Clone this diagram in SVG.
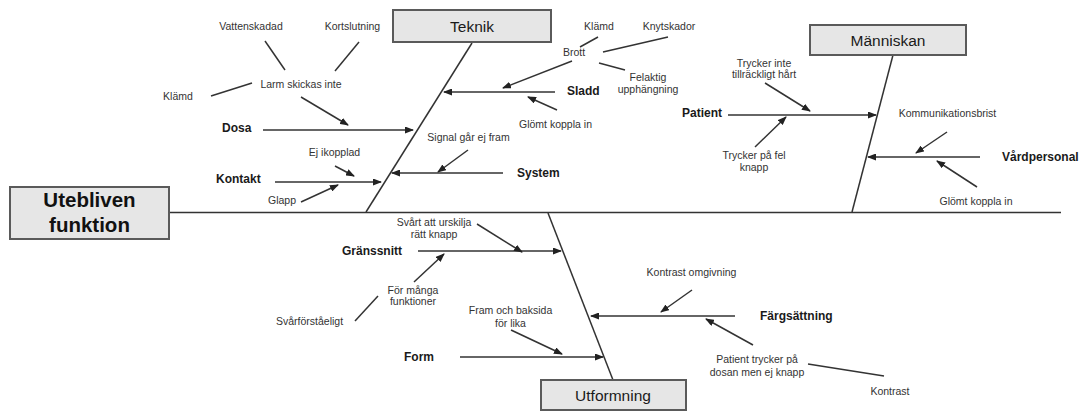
<svg xmlns="http://www.w3.org/2000/svg" width="1081" height="412" viewBox="0 0 1081 412">
<style>
.box{fill:#e6e6e6;stroke:#5a5a5a;stroke-width:2}
.ln{stroke:#333;stroke-width:1.5;fill:none}
.ar{stroke:#333;stroke-width:1.5;fill:none;marker-end:url(#ah)}
.s{font-family:"Liberation Sans",Arial,sans-serif;font-size:10.5px;fill:#333}
.m{text-anchor:middle}
.b{font-family:"Liberation Sans",Arial,sans-serif;font-size:12px;font-weight:bold;fill:#1a1a1a}
.t{font-family:"Liberation Sans",Arial,sans-serif;font-size:15.5px;fill:#1a1a1a;text-anchor:middle}
.h{font-family:"Liberation Sans",Arial,sans-serif;font-size:20.5px;font-weight:bold;fill:#111;text-anchor:middle}
</style>
<defs>
<marker id="ah" markerWidth="9" markerHeight="7" refX="8" refY="3.5" orient="auto" markerUnits="userSpaceOnUse">
<path d="M0,0 L9,3.5 L0,7 Z" fill="#222"/>
</marker>
</defs>
<rect width="1081" height="412" fill="#fff"/>
<g id="connectors">
<line class="ln" x1="169" y1="212.5" x2="1061" y2="212.5"/>
<line class="ln" x1="472" y1="43" x2="366" y2="212"/>
<line class="ln" x1="893" y1="55" x2="852" y2="212"/>
<line class="ln" x1="548" y1="213" x2="613" y2="380"/>
<line class="ar" x1="555" y1="92" x2="444" y2="92"/>
<line class="ar" x1="572" y1="61" x2="503" y2="88"/>
<line class="ln" x1="598" y1="37" x2="580" y2="47"/>
<line class="ln" x1="668" y1="37" x2="603" y2="52"/>
<line class="ln" x1="599" y1="63" x2="625" y2="70"/>
<line class="ar" x1="557" y1="110" x2="528" y2="97"/>
<line class="ar" x1="263" y1="130" x2="413" y2="130"/>
<line class="ar" x1="301" y1="97" x2="348" y2="125"/>
<line class="ln" x1="265" y1="41" x2="285" y2="70"/>
<line class="ln" x1="359" y1="42" x2="335" y2="71"/>
<line class="ln" x1="211" y1="96" x2="252" y2="83"/>
<line class="ar" x1="275" y1="182" x2="381" y2="182"/>
<line class="ar" x1="335" y1="166" x2="354" y2="176"/>
<line class="ar" x1="301" y1="202" x2="338" y2="185"/>
<line class="ar" x1="503" y1="173" x2="392" y2="173"/>
<line class="ar" x1="468" y1="150" x2="438" y2="172"/>
<line class="ar" x1="728" y1="115" x2="876" y2="115"/>
<line class="ar" x1="765" y1="83" x2="810" y2="111"/>
<line class="ar" x1="755" y1="147" x2="786" y2="117"/>
<line class="ar" x1="980" y1="157" x2="868" y2="157"/>
<line class="ar" x1="947" y1="132" x2="916" y2="153"/>
<line class="ar" x1="977" y1="187" x2="937" y2="161"/>
<line class="ar" x1="418" y1="251" x2="561" y2="251"/>
<line class="ar" x1="477" y1="224" x2="522" y2="252"/>
<line class="ar" x1="414" y1="282" x2="444" y2="254"/>
<line class="ln" x1="355" y1="321" x2="378" y2="296"/>
<line class="ar" x1="460" y1="357" x2="603" y2="357"/>
<line class="ar" x1="511" y1="330" x2="562" y2="354"/>
<line class="ar" x1="735" y1="316" x2="591" y2="316"/>
<line class="ar" x1="692" y1="290" x2="661" y2="312"/>
<line class="ar" x1="753" y1="345" x2="706" y2="319"/>
<line class="ln" x1="808" y1="364" x2="884" y2="376"/>
</g>
<g id="node-utebliven">
<rect class="box" x="10" y="187" width="159" height="52"/>
<text class="h" x="89.5" y="207">Utebliven</text>
<text class="h" x="89.5" y="232">funktion</text>
</g>
<g id="node-teknik">
<rect class="box" x="393" y="10" width="158" height="32"/>
<text class="t" x="472" y="32">Teknik</text>
</g>
<g id="node-manniskan">
<rect class="box" x="810" y="25" width="156" height="30"/>
<text class="t" x="888" y="46">Människan</text>
</g>
<g id="node-utformning">
<rect class="box" x="541" y="380" width="145" height="30"/>
<text class="t" x="613" y="401">Utformning</text>
</g>
<g id="labels">
<text class="s m" x="251" y="30">Vattenskadad</text>
<text class="s m" x="352.5" y="30">Kortslutning</text>
<text class="s m" x="301" y="88">Larm skickas inte</text>
<text class="s m" x="178" y="100">Klämd</text>
<text class="s m" x="334.5" y="156">Ej ikopplad</text>
<text class="s m" x="282" y="204">Glapp</text>
<text class="s m" x="468.5" y="141">Signal går ej fram</text>
<text class="s m" x="574" y="56">Brott</text>
<text class="s m" x="599" y="30">Klämd</text>
<text class="s m" x="669" y="30">Knytskador</text>
<text class="s m" x="648" y="80.5">Felaktig</text>
<text class="s m" x="648" y="92.5">upphängning</text>
<text class="s m" x="555.5" y="128">Glömt koppla in</text>
<text class="s m" x="764" y="67">Trycker inte</text>
<text class="s m" x="764" y="78">tillräckligt hårt</text>
<text class="s m" x="754" y="159">Trycker på fel</text>
<text class="s m" x="754" y="171">knapp</text>
<text class="s m" x="947.5" y="117">Kommunikationsbrist</text>
<text class="s m" x="976" y="205">Glömt koppla in</text>
<text class="s m" x="434" y="226">Svårt att urskilja</text>
<text class="s m" x="434" y="238">rätt knapp</text>
<text class="s m" x="413" y="294">För många</text>
<text class="s m" x="413" y="305">funktioner</text>
<text class="s m" x="309.5" y="325">Svårförståeligt</text>
<text class="s m" x="510.5" y="314">Fram och baksida</text>
<text class="s m" x="510.5" y="327">för lika</text>
<text class="s m" x="691.5" y="276">Kontrast omgivning</text>
<text class="s m" x="757" y="363">Patient trycker på</text>
<text class="s m" x="757" y="376">dosan men ej knapp</text>
<text class="s m" x="890" y="395">Kontrast</text>
<text class="b" x="222" y="132">Dosa</text>
<text class="b" x="216" y="183">Kontakt</text>
<text class="b" x="567" y="95">Sladd</text>
<text class="b" x="517" y="177">System</text>
<text class="b" x="682" y="117">Patient</text>
<text class="b" x="1002" y="161">Vårdpersonal</text>
<text class="b" x="342" y="255">Gränssnitt</text>
<text class="b" x="404" y="361">Form</text>
<text class="b" x="760" y="320">Färgsättning</text>
</g>
</svg>
